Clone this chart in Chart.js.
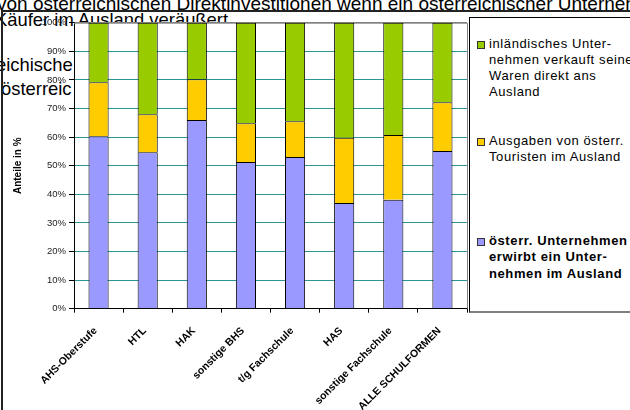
<!DOCTYPE html>
<html>
<head>
<meta charset="utf-8">
<script src="https://cdn.jsdelivr.net/npm/chart.js@4.4.1/dist/chart.umd.min.js"></script>
<style>
  html, body { margin: 0; padding: 0; background: #fff; overflow: hidden; }
  body { width: 630px; height: 410px; position: relative; font-family: "Liberation Sans", Arial, sans-serif; }
  .bgtext { position: absolute; font-size: 18.4px; line-height: 1; color: #000; white-space: nowrap; z-index: 0; }
  #frame { position: absolute; left: 1px; top: 10px; width: 640px; height: 410px; border-left: 2px solid #222; border-top: 2px solid #222; z-index: 0; }
  #wrap { position: absolute; left: 0; top: 0; width: 630px; height: 410px; z-index: 1; }
  #legend { position: absolute; left: 469px; top: 17px; width: 170px; height: 296px; box-sizing: border-box;
            background: #fff; border-left: 1px solid #000; border-top: 1px solid #000; border-bottom: 2px solid #808080; z-index: 2; }
  .sw { position: absolute; left: 7px; width: 8px; height: 8px; box-sizing: border-box; border: 1px solid #333; }
  .lt { position: absolute; left: 19px; font-size: 13px; line-height: 16.2px; letter-spacing: 0.6px; white-space: nowrap; color: #000; }
</style>
</head>
<body>
<div class="bgtext" style="left:-3px; top:-6px; font-size:19px;">von österreichischen Direktinvestitionen wenn ein österreichischer Unternehmer</div>
<div class="bgtext" style="left:-5px; top:11px;">Käufer im Ausland veräußert</div>
<div class="bgtext" style="left:-4px; top:55.5px;">eichische</div>
<div class="bgtext" style="left:1px; top:79.5px;">österreic</div>
<div id="frame"></div>
<div id="wrap"><canvas id="chart" width="630" height="410"></canvas></div>
<div id="legend"></div>
<script>
// categories and shares (percent of each school type)
const categories = ['AHS-Oberstufe', 'HTL', 'HAK', 'sonstige BHS', 't/g Fachschule', 'HAS', 'sonstige Fachschule', 'ALLE SCHULFORMEN'];
const erwirbt   = [60.3, 54.7, 66.0, 51.3, 53.0, 37.0, 38.1, 55.1];
const touristen = [18.9, 13.3, 14.2, 13.5, 12.5, 22.8, 22.6, 17.1];
const verkauft  = [20.8, 32.0, 19.8, 35.2, 34.5, 40.2, 39.3, 27.8];

const labelVerkauft  = ['inländisches Unter-', 'nehmen verkauft seine', 'Waren direkt ans', 'Ausland'];
const labelTouristen = ['Ausgaben von österr.', 'Touristen im Ausland'];
const labelErwirbt   = ['österr. Unternehmen', 'erwirbt ein Unter-', 'nehmen im Ausland'];

const yTicks = [0, 10, 20, 30, 40, 50, 60, 70, 80, 90, 100];

const colBlue = '#9999FF', colYellow = '#FFCC00', colGreen = '#99CC00';

// legend drawn as html (multi line labels)
const legendItems = [
  { lines: labelVerkauft, color: colGreen, top: 17.8, sq: 23, bold: false },
  { lines: labelTouristen, color: colYellow, top: 115.2, sq: 120, bold: false },
  { lines: labelErwirbt, color: colBlue, top: 215.2, sq: 220, bold: true }
];
const legendEl = document.getElementById('legend');
legendItems.forEach(it => {
  const sw = document.createElement('div');
  sw.className = 'sw';
  sw.style.top = it.sq + 'px';
  sw.style.background = it.color;
  legendEl.appendChild(sw);
  const t = document.createElement('div');
  t.className = 'lt';
  t.style.top = it.top + 'px';
  if (it.bold) t.style.fontWeight = 'bold';
  t.innerHTML = it.lines.join('<br>');
  legendEl.appendChild(t);
});

// white plot area + gray frame like excel
const plotArea = {
  id: 'plotArea',
  beforeDraw(chart) {
    const { ctx, chartArea: a } = chart;
    ctx.save();
    ctx.fillStyle = '#fff';
    ctx.fillRect(a.left, a.top, a.right - a.left, a.bottom - a.top);
    ctx.restore();
  },
  beforeDatasetsDraw(chart) {
    const { ctx, chartArea: a } = chart;
    ctx.save();
    ctx.strokeStyle = '#808080';
    ctx.lineWidth = 1;
    ctx.beginPath();
    ctx.moveTo(a.left, a.top + 0.5);
    ctx.lineTo(a.right + 0.5, a.top + 0.5);
    ctx.lineTo(a.right + 0.5, a.bottom);
    ctx.stroke();
    ctx.restore();
  }
};

const font = 'Liberation Sans, Arial, sans-serif';

new Chart(document.getElementById('chart'), {
  type: 'bar',
  data: {
    labels: categories,
    datasets: [
      { label: labelErwirbt.join(' '), data: erwirbt, backgroundColor: colBlue },
      { label: labelTouristen.join(' '), data: touristen, backgroundColor: colYellow },
      { label: labelVerkauft.join(' '), data: verkauft, backgroundColor: colGreen }
    ]
  },
  options: {
    responsive: false,
    animation: false,
    layout: { padding: { top: 22.7, right: 163, left: 0, bottom: 0 } },
    datasets: {
      bar: { borderColor: '#000', borderWidth: 1, categoryPercentage: 1, barPercentage: 0.41 }
    },
    plugins: {
      legend: { display: false },
      tooltip: { enabled: false }
    },
    scales: {
      x: {
        stacked: true,
        afterFit: s => { s.height = 101.3; },
        grid: { drawOnChartArea: false, drawTicks: true, tickLength: 4, offset: true, color: '#000' },
        border: { color: '#000', width: 1 },
        ticks: {
          autoSkip: false, minRotation: 45, maxRotation: 45, padding: 12, labelOffset: -3,
          color: '#000', font: { family: font, size: 10.5, weight: 'bold' }
        }
      },
      y: {
        stacked: true,
        min: 0,
        max: 100,
        afterFit: s => { s.width = 74; },
        afterBuildTicks: s => { s.ticks = yTicks.map(v => ({ value: v })); },
        grid: {
          color: c => c.tick && c.tick.value === 100 ? '#808080' : (c.tick && c.tick.value === 0 ? '#000' : '#2f9494'),
          tickColor: '#000',
          tickLength: 5
        },
        border: { color: '#000', width: 1 },
        title: {
          display: true, text: 'Anteile in %', color: '#000',
          padding: { top: 12, bottom: 0 },
          font: { family: font, size: 10, weight: 'bold' }
        },
        ticks: {
          padding: 3, color: '#222',
          font: { family: font, size: 9.5 },
          callback: v => v + '%'
        }
      }
    }
  },
  plugins: [plotArea]
});
</script>
</body>
</html>
